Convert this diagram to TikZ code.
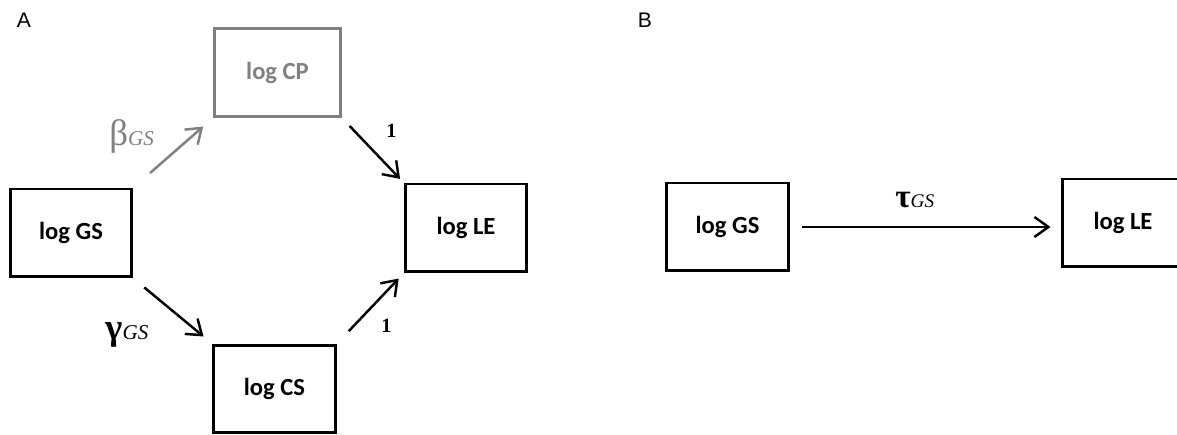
\documentclass[tikz,border=0pt]{standalone}
\usepackage{fontspec}
\setmainfont{Liberation Serif}
\newfontfamily\boxfont{Carlito}
\newfontfamily\panelfont{Liberation Sans}
\usetikzlibrary{arrows.meta}
\definecolor{pathgray}{RGB}{128,128,128}

\begin{document}
\begin{tikzpicture}[x=0.02cm, y=-0.02cm,
    box/.style={rectangle, draw, line width=1.7pt, minimum width=2.44cm, minimum height=1.76cm, inner sep=0pt,
        font=\boxfont\bfseries\fontsize{14}{16}\selectfont},
    arrow/.style={-{Straight Barb[length=0.28cm, width=0.4cm, line width=1.4pt]}, line width=1.4pt},
    coef/.style={anchor=base west, inner sep=0pt},
    panel/.style={font=\panelfont\fontsize{12}{14}\selectfont, inner sep=0pt}
]
\useasboundingbox (0,0) rectangle (1177,435);
\clip (0,0) rectangle (1177,435);

% Panel A
\node[box, draw=pathgray, text=pathgray, minimum width=2.52cm] (cp) at (277.5,72.5) {log CP};
\node[box] (gs) at (71,233) {log GS};
\node[box] (cs) at (274.5,389) {log CS};
\node[box] (le) at (466,228) {log LE};

% Panel B
\node[box] (gsb) at (727.5,227) {log GS};
\node[box] (leb) at (1123,223) {log LE};

% Arrows
\draw[arrow, pathgray, shorten <=0.44cm, shorten >=0.26cm] (gs.north east) -- (cp.south west);
\draw[arrow, shorten <=0.22cm, shorten >=0.1cm] (cp.south east) -- (le.north west);
\draw[arrow, shorten <=0.28cm, shorten >=0.22cm] (gs.south east) -- (cs.north west);
\draw[arrow, shorten <=0.34cm, shorten >=0.14cm] (cs.north east) -- (le.south west);
\draw[arrow, shorten <=0.24cm, shorten >=0.2cm] (gsb.east) -- (gsb.east -| leb.west);

% Labels
\node[coef, text=pathgray] (beta) at (109,146) {\fontsize{21}{22}\selectfont β\fontsize{12}{13}\selectfont\itshape GS};
\node[coef] (gamma) at (105,340) {\fontsize{21}{22}\selectfont\bfseries γ\fontsize{12}{13}\selectfont\mdseries\itshape GS};
\node[coef] (tau) at (895,208) {\fontsize{19}{20}\selectfont\bfseries τ\fontsize{11}{12}\selectfont\mdseries\itshape GS};
\node[coef, font=\bfseries\fontsize{11.5}{13}\selectfont] (one1) at (386,138) {1};
\node[coef, font=\bfseries\fontsize{11.5}{13}\selectfont] (one2) at (381,333) {1};
\node[panel] (pa) at (24,20) {A};
\node[panel] (pb) at (645,20) {B};

\end{tikzpicture}
\end{document}
